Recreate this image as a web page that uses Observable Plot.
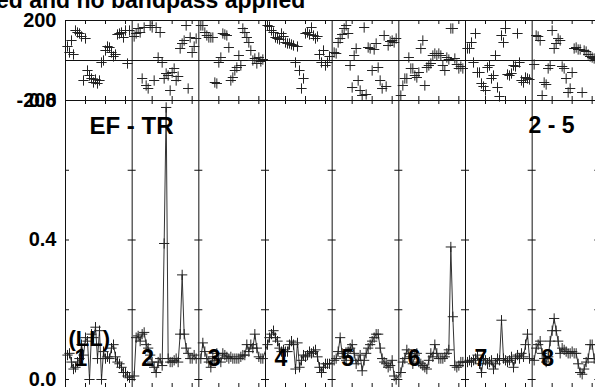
<!DOCTYPE html>
<html><head><meta charset="utf-8">
<script src="https://cdn.jsdelivr.net/npm/d3@7"></script>
<script src="https://cdn.jsdelivr.net/npm/@observablehq/plot@0.6"></script>
<style>
html,body{margin:0;padding:0;background:#fff;overflow:hidden;width:595px;height:387px;}
#wrap{position:relative;width:600px;height:387px;overflow:hidden;font-family:"Liberation Sans",Arial,sans-serif;}
#title{position:absolute;left:-4px;top:-11px;font-size:23px;line-height:23px;font-weight:bold;white-space:nowrap;color:#000}
.p{position:absolute;left:0}
</style></head><body><div id="wrap"><div id="title"></div></div>
<script>
// ---- text ----
const titleText = "ed and no bandpass applied";
const baselineLabel = "EF - TR";
const sourceLabel = "2 - 5";
const polLabel = "(LL)";
const panelLabels = ["1","2","3","4","5","6","7","8"];

// ---- ticks ----
const phaseTickLabels = [200, -200];
const ampTickLabels = [0.8, 0.4, 0.0];
const ampTickMarks = [0.0, 0.2, 0.4, 0.6, 0.8];
const channelTicks = [10, 20, 30];

// ---- channels (x within each IF panel) ----
const channels = [1,2,3,4,5,6,7,8,9,10,11,12,13,14,15,16,17,18,19,20,21,22,23,24,25,26,27,28,29,30,31,32];

// ---- phases (degrees) per IF panel ----
const phase1 = [70,40,100,30,150,140,135,120,-100,110,-50,-75,-90,-110,-95,-115,-100,-10,0,50,70,65,40,20,30,130,135,140,115,150,-15,150];
const phase2 = [120,135,160,140,-90,165,-125,-140,175,165,-100,165,15,140,-10,-90,-65,-75,-150,-60,-40,-100,-80,60,85,100,175,-140,115,40,70,110];
const phase3 = [175,175,140,125,115,115,115,-110,-115,-10,15,135,130,125,65,-100,-85,-50,-35,25,-25,160,140,115,90,50,0,10,-15,15,-5,5];
const phase4 = [175,170,150,140,115,110,105,135,120,90,85,85,80,75,-10,70,-50,-140,-90,135,140,130,165,125,110,120,30,-10,50,-25,-10,20];
const phase5 = [40,35,90,110,130,160,175,135,-25,-135,25,60,-100,-150,-175,165,-170,65,60,-50,55,85,-35,-100,-140,125,-130,75,95,100,90,110];
const phase6 = [-175,-125,-90,-90,15,-40,-40,-75,-85,-60,60,100,-125,-35,-25,-15,25,35,25,35,25,-25,-50,15,5,160,160,10,-20,-40,-30,-40];
const phase7 = [60,60,90,-10,135,-60,-60,-115,-130,-150,-35,-25,-90,-75,25,-135,-180,125,90,160,-70,-75,-65,-25,-30,135,-10,-100,-110,-85,-90,-95];
const phase8 = [-20,125,120,100,-175,-110,-120,-40,-25,150,60,85,110,100,-30,-40,-90,-160,-140,-60,60,65,55,55,-160,50,45,30,20,15,10,5];

// ---- amplitudes per IF panel ----
const amp1 = [0.07,0.075,0.05,0.03,0.035,0.05,0.06,0.10,0.07,0.12,0.11,0.0,0.13,0.12,0.15,0.06,0.14,0.0,0.08,0.06,0.065,0.06,0.09,0.10,0.065,0.05,0.045,0.035,0.02,0.02,0.01,0.005];
const amp2 = [0.01,0.12,0.125,0.11,0.13,0.135,0.10,0.09,0.07,0.05,0.035,0.02,0.05,0.06,0.04,0.39,0.78,0.06,0.05,0.05,0.055,0.06,0.05,0.13,0.30,0.13,0.09,0.075,0.06,0.06,0.07,0.06];
const amp3 = [0.06,0.105,0.08,0.06,0.05,0.035,0.065,0.055,0.075,0.06,0.05,0.075,0.07,0.065,0.06,0.065,0.06,0.06,0.06,0.06,0.065,0.07,0.07,0.10,0.08,0.10,0.09,0.13,0.09,0.065,0.06,0.06];
const amp4 = [0.10,0.12,0.13,0.14,0.12,0.11,0.09,0.08,0.085,0.08,0.08,0.10,0.11,0.10,0.03,0.105,0.035,0.055,0.07,0.065,0.07,0.08,0.075,0.08,0.085,0.065,0.035,0.02,0.035,0.045,0.045,0.045];
const amp5 = [0.055,0.06,0.08,0.12,0.075,0.065,0.055,0.08,0.09,0.10,0.075,0.045,0.055,0.07,0.025,0.055,0.075,0.09,0.10,0.11,0.12,0.13,0.13,0.09,0.06,0.05,0.045,0.035,0.04,0.055,0.01,0.0];
const amp6 = [0.02,0.05,0.06,0.085,0.075,0.065,0.045,0.07,0.075,0.05,0.045,0.04,0.035,0.03,0.055,0.075,0.065,0.10,0.075,0.06,0.06,0.06,0.065,0.075,0.085,0.38,0.18,0.04,0.035,0.04,0.05,0.05];
const amp7 = [0.05,0.055,0.05,0.055,0.06,0.07,0.045,0.02,0.06,0.055,0.045,0.05,0.055,0.03,0.045,0.06,0.055,0.17,0.06,0.055,0.05,0.055,0.065,0.035,0.06,0.07,0.06,0.075,0.065,0.10,0.13,0.06];
const amp8 = [0.055,0.09,0.10,0.11,0.075,0.06,0.05,0.065,0.11,0.14,0.175,0.14,0.11,0.075,0.09,0.085,0.08,0.075,0.075,0.08,0.075,0.075,0.045,0.02,0.015,0.03,0.05,0.06,0.10,0.10,0.06,0.05];

// ---- build tables ----
const phasePanels = [phase1,phase2,phase3,phase4,phase5,phase6,phase7,phase8];
const ampPanels = [amp1,amp2,amp3,amp4,amp5,amp6,amp7,amp8];
const span = 100/3;               // channel units per panel
const nPanels = phasePanels.length;
const xDomain = [0, span*nPanels];
const panelIdx = d3.range(nPanels + 1);
const boundaries = panelIdx.map(p => p*span);
const phaseData = phasePanels.flatMap((arr,p) => arr.map((v,i) => ({x: p*span + channels[i], v})));
const ampData = ampPanels.flatMap((arr,p) => arr.map((v,i) => ({x: p*span + channels[i], v})));
const xTickPos = d3.range(nPanels).flatMap(p => channelTicks.map(c => p*span + c));
const half = 2; // cross half-length in channel units
const crossData = boundaries.flatMap((b,i) => ampTickMarks.map(v => ({v, a: i===0 ? b : b-half, b: i===nPanels ? b : b+half})));

const W = 600, ML = 65;
const MR = W - ML - nPanels*200/3;
const font = '"Liberation Sans", Arial, sans-serif';
const ink = "#111";
const dotInk = "#222";
const svgStyle = {background: "transparent", overflow: "visible", fontFamily: font};

document.getElementById("title").textContent = titleText;

const phaseMin = -200, phaseMax = 200;
const phasePlot = Plot.plot({
  width: W, height: 110, marginLeft: ML, marginRight: MR, marginTop: 20, marginBottom: 10,
  x: {domain: xDomain, axis: null},
  y: {domain: [phaseMin, phaseMax], axis: null},
  style: svgStyle,
  marks: [
    Plot.ruleY([phaseMax, 0, phaseMin], {stroke: ink, strokeWidth: 1}),
    Plot.ruleX(boundaries, {stroke: ink, strokeWidth: 1}),
    Plot.ruleX(xTickPos, {y1: phaseMax, y2: phaseMax - 20, stroke: ink}),
    Plot.ruleX(xTickPos, {y1: phaseMin, y2: phaseMin + 20, stroke: ink}),
    Plot.dot(phaseData, {x: "x", y: "v", symbol: "plus", r: 3.4, fill: "none", stroke: dotInk, strokeWidth: 1}),
    Plot.text(phaseTickLabels, {y: d => d, text: d => String(d), frameAnchor: "left", textAnchor: "end", lineAnchor: "middle", dx: -9, fontSize: 20, fontWeight: "bold", fontFamily: font, fill: "#000"})
  ]
});
phasePlot.classList.add("p");
phasePlot.style.top = "0px";

const ampMin = -0.0258, ampMax = 0.8;
const ampPlot = Plot.plot({
  width: W, height: 308, marginLeft: ML, marginRight: MR, marginTop: 10, marginBottom: 10,
  x: {domain: xDomain, axis: null},
  y: {domain: [ampMin, ampMax], axis: null},
  style: svgStyle,
  marks: [
    Plot.ruleY([ampMax, ampMin], {stroke: ink, strokeWidth: 1}),
    Plot.ruleX(boundaries, {stroke: ink, strokeWidth: 1}),
    Plot.ruleX(xTickPos, {y1: ampMax, y2: ampMax - 0.0115, stroke: ink}),
    Plot.ruleX(xTickPos, {y1: ampMin, y2: ampMin + 0.0143, stroke: ink}),
    Plot.ruleY(crossData, {y: "v", x1: "a", x2: "b", stroke: ink}),
    Plot.line(ampData, {x: "x", y: "v", stroke: "#333", strokeWidth: 1}),
    Plot.dot(ampData, {x: "x", y: "v", symbol: "plus", r: 3.4, fill: "none", stroke: dotInk, strokeWidth: 1}),
    Plot.text(ampTickLabels, {y: d => d, text: d => d.toFixed(1), frameAnchor: "left", textAnchor: "end", lineAnchor: "middle", dx: -9, fontSize: 20, fontWeight: "bold", fontFamily: font, fill: "#000"}),
    Plot.text([baselineLabel], {text: d => d, frameAnchor: "top-left", textAnchor: "start", lineAnchor: "middle", dx: 24, dy: 25.5, fontSize: 24, fontWeight: "bold", fontFamily: font, fill: "#000"}),
    Plot.text([sourceLabel], {text: d => d, frameAnchor: "top-left", textAnchor: "start", lineAnchor: "middle", dx: 463, dy: 25.5, fontSize: 23, fontWeight: "bold", fontFamily: font, fill: "#000"}),
    Plot.text([polLabel], {text: d => d, frameAnchor: "bottom-left", textAnchor: "start", lineAnchor: "middle", dx: 3, dy: -50, fontSize: 22, fontWeight: "bold", fontFamily: font, fill: "#000"}),
    Plot.text(panelLabels, {x: (d,i) => i*span + 4.5, text: d => d, frameAnchor: "bottom", textAnchor: "start", lineAnchor: "middle", dy: -30, fontSize: 23, fontWeight: "bold", fontFamily: font, fill: "#000"})
  ]
});
ampPlot.classList.add("p");
ampPlot.style.top = "90px";

const wrap = document.getElementById("wrap");
wrap.appendChild(phasePlot);
wrap.appendChild(ampPlot);
</script>
</body></html>
